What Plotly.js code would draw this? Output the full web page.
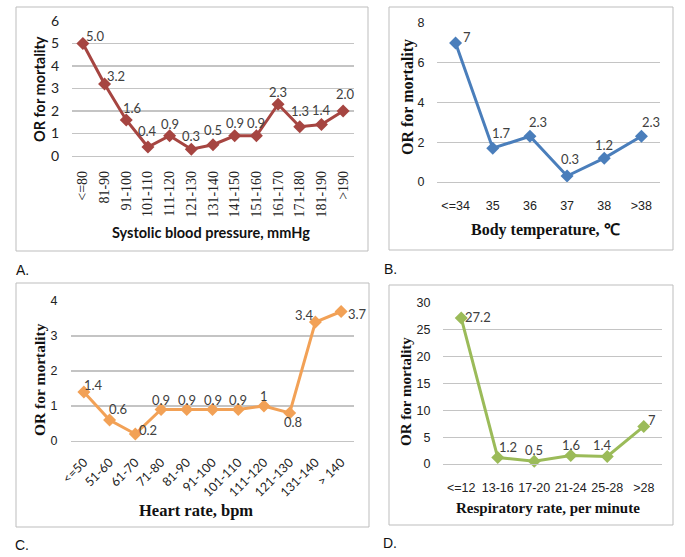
<!DOCTYPE html>
<html>
<head>
<meta charset="utf-8">
<script src="https://cdn.plot.ly/plotly-3.0.1.min.js"></script>
<style>html,body{margin:0;padding:0;background:#fff}#chart{width:685px;height:557px}</style>
</head>
<body>
<div id="chart"></div>
<script>
// ---- data ----
var sbpCategories = ["<=80","81-90","91-100","101-110","111-120","121-130","131-140","141-150","151-160","161-170","171-180","181-190",">190"];
var sbpOR = [5.0,3.2,1.6,0.4,0.9,0.3,0.5,0.9,0.9,2.3,1.3,1.4,2.0];

var tempCategories = ["<=34","35","36","37","38",">38"];
var tempOR = [7,1.7,2.3,0.3,1.2,2.3];

var hrCategories = ["<=50","51-60","61-70","71-80","81-90","91-100","101-110","111-120","121-130","131-140","> 140"];
var hrOR = [1.4,0.6,0.2,0.9,0.9,0.9,0.9,1,0.8,3.4,3.7];

var rrCategories = ["<=12","13-16","17-20","21-24","25-28",">28"];
var rrOR = [27.2,1.2,0.5,1.6,1.4,7];

// ---- label placement (screen-pixel nudges, styling only) ----
var sbpNudge = [[13,-8],[11,-8],[6,-12],[0,-16],[0,-12],[0,-13],[0,-15],[0,-13],[0,-13],[0,-12],[0,-16],[0,-15],[2,-17]];
var tempNudge = [[11,-6],[9,-15],[8,-14],[3,-17],[0,-13],[10,-14]];
var hrNudge = [[10,-7],[8,-11],[13,-4],[0,-10],[0,-10],[0,-10],[0,-10],[0,-10],[3,9],[-11,-7],[16,2]];
var rrNudge = [[17,-1],[10,-11],[0,-11],[0,-10],[-5,-11],[8,-6]];

// ---- helpers ----
var W = 685, H = 557;
function px(x){ return x / W; }
function py(y){ return 1 - y / H; }

var labelFont = {family: "Lato, 'Open Sans', sans-serif", size: 13, color: "#404040"};

function trace(cats, vals, color, xa, ya) {
  return {
    type: "scatter", mode: "lines+markers",
    x: cats, y: vals,
    line: {color: color, width: 3},
    marker: {symbol: "diamond", size: 10, color: color},
    xaxis: xa, yaxis: ya, hoverinfo: "none", cliponaxis: false
  };
}

var data = [
  trace(sbpCategories, sbpOR, "#A64541", "x", "y"),
  trace(tempCategories, tempOR, "#4A7EBB", "x2", "y2"),
  trace(hrCategories, hrOR, "#F2A156", "x3", "y3"),
  trace(rrCategories, rrOR, "#9BBB59", "x4", "y4")
];

var gridColor = "#C4C4C4";
function xax(dom, anchor, n, angle, fontSpec, standoff) {
  return {
    domain: [px(dom[0]), px(dom[1])], anchor: anchor, type: "category",
    range: [-0.5, n - 0.5], tickangle: angle, showgrid: false, zeroline: false,
    showline: true, linecolor: gridColor, linewidth: 1.3,
    ticks: "outside", ticklen: standoff, tickcolor: "rgba(0,0,0,0)",
    tickfont: fontSpec, fixedrange: true
  };
}
function yax(dom, anchor, max, dtick, fontSpec, standoff) {
  return {
    domain: [py(dom[1]), py(dom[0])], anchor: anchor, range: [0, max], dtick: dtick,
    showgrid: true, gridcolor: gridColor, gridwidth: 1.3, zeroline: false,
    showline: false, ticks: "outside", ticklen: standoff, tickcolor: "rgba(0,0,0,0)",
    tickfont: fontSpec, fixedrange: true
  };
}

var sansTick = {family: "Lato, 'Open Sans', sans-serif", size: 14, color: "#222"};
var arialTick = {family: "'Liberation Sans', Arial, sans-serif", size: 12.5, color: "#222"};
var serifTick = {family: "'Liberation Serif', 'Times New Roman', serif", size: 14, color: "#222"};

var layout = {
  width: W, height: H, margin: {l:0, r:0, t:0, b:0},
  paper_bgcolor: "#fff", plot_bgcolor: "rgba(0,0,0,0)", showlegend: false,
  xaxis: xax([72,354], "y", sbpCategories.length, -90, serifTick, 8),
  yaxis: yax([21,156], "x", 6, 1, sansTick, 9),
  xaxis2: xax([437,660], "y2", tempCategories.length, 0, arialTick, 12),
  yaxis2: yax([23,182], "x2", 8, 2, arialTick, 9),
  xaxis3: xax([71,354], "y3", hrCategories.length, -45, {family: "Lato, 'Open Sans', sans-serif", size: 12.5, color: "#222"}, 8),
  yaxis3: yax([301,441], "x3", 4, 1, arialTick, 10),
  xaxis4: xax([443,662], "y4", rrCategories.length, 0, arialTick, 12),
  yaxis4: yax([303,464], "x4", 30, 5, arialTick, 9),
  shapes: [
    {type:"rect", xref:"paper", yref:"paper", x0:px(16), x1:px(368), y0:py(251), y1:py(7), line:{color:"#BDBDBD", width:1}},
    {type:"rect", xref:"paper", yref:"paper", x0:px(389), x1:px(673), y0:py(250), y1:py(7), line:{color:"#BDBDBD", width:1}},
    {type:"rect", xref:"paper", yref:"paper", x0:px(16), x1:px(369), y0:py(527), y1:py(283), line:{color:"#BDBDBD", width:1}},
    {type:"rect", xref:"paper", yref:"paper", x0:px(389), x1:px(673), y0:py(525), y1:py(285), line:{color:"#BDBDBD", width:1}}
  ],
  annotations: []
};

// data labels from the data arrays, placed through the axes' own scales
// (x given as the category index, since names like "35" would be read as indices)
function addLabels(cats, vals, fmt, nudge, xa, ya) {
  for (var i = 0; i < cats.length; i++) {
    layout.annotations.push({
      text: fmt(vals[i]), x: i, y: vals[i], xref: xa, yref: ya,
      xanchor: "center", yanchor: "middle", xshift: nudge[i][0], yshift: -nudge[i][1],
      showarrow: false, font: labelFont
    });
  }
}
addLabels(sbpCategories, sbpOR, function(v){return v.toFixed(1);}, sbpNudge, "x", "y");
addLabels(tempCategories, tempOR, String, tempNudge, "x2", "y2");
addLabels(hrCategories, hrOR, String, hrNudge, "x3", "y3");
addLabels(rrCategories, rrOR, String, rrNudge, "x4", "y4");

function ann(text, x, y, font, angle) {
  return {text: text, xref:"paper", yref:"paper", x: px(x), y: py(y), xanchor:"center", yanchor:"middle",
          showarrow:false, font: font, textangle: angle || 0};
}
var calBold = {family: "Lato, 'Open Sans', sans-serif", size: 14.5, color: "#111"};
var serifFam = "'Liberation Serif', 'Times New Roman', serif";
var panelFont = {family: "'Liberation Sans', Arial, sans-serif", size: 14, color: "#111"};

layout.annotations.push(
  ann("<b>OR for mortality</b>", 40, 89, calBold, -90),
  ann("<b>Systolic blood pressure, mmHg</b>", 211, 233, calBold),
  ann("<b>OR for mortality</b>", 408, 97, {family: serifFam, size: 16, color: "#111"}, -90),
  ann("<b>Body temperature, ℃</b>", 545, 230, {family: serifFam, size: 16, color: "#111"}),
  ann("<b>OR for mortality</b>", 39, 380, {family: serifFam, size: 15.5, color: "#111"}, -90),
  ann("<b>Heart rate, bpm</b>", 196, 510, {family: serifFam, size: 16.5, color: "#111"}),
  ann("<b>OR for mortality</b>", 406, 392, {family: serifFam, size: 15, color: "#111"}, -90),
  ann("<b>Respiratory rate, per minute</b>", 548, 508, {family: serifFam, size: 15, color: "#111"}),
  ann("A.", 22, 270, panelFont),
  ann("B.", 390, 269, panelFont),
  ann("C.", 22, 545, panelFont),
  ann("D.", 390, 543, panelFont)
);

Plotly.newPlot("chart", data, layout, {staticPlot: true, displayModeBar: false});
</script>
</body>
</html>
